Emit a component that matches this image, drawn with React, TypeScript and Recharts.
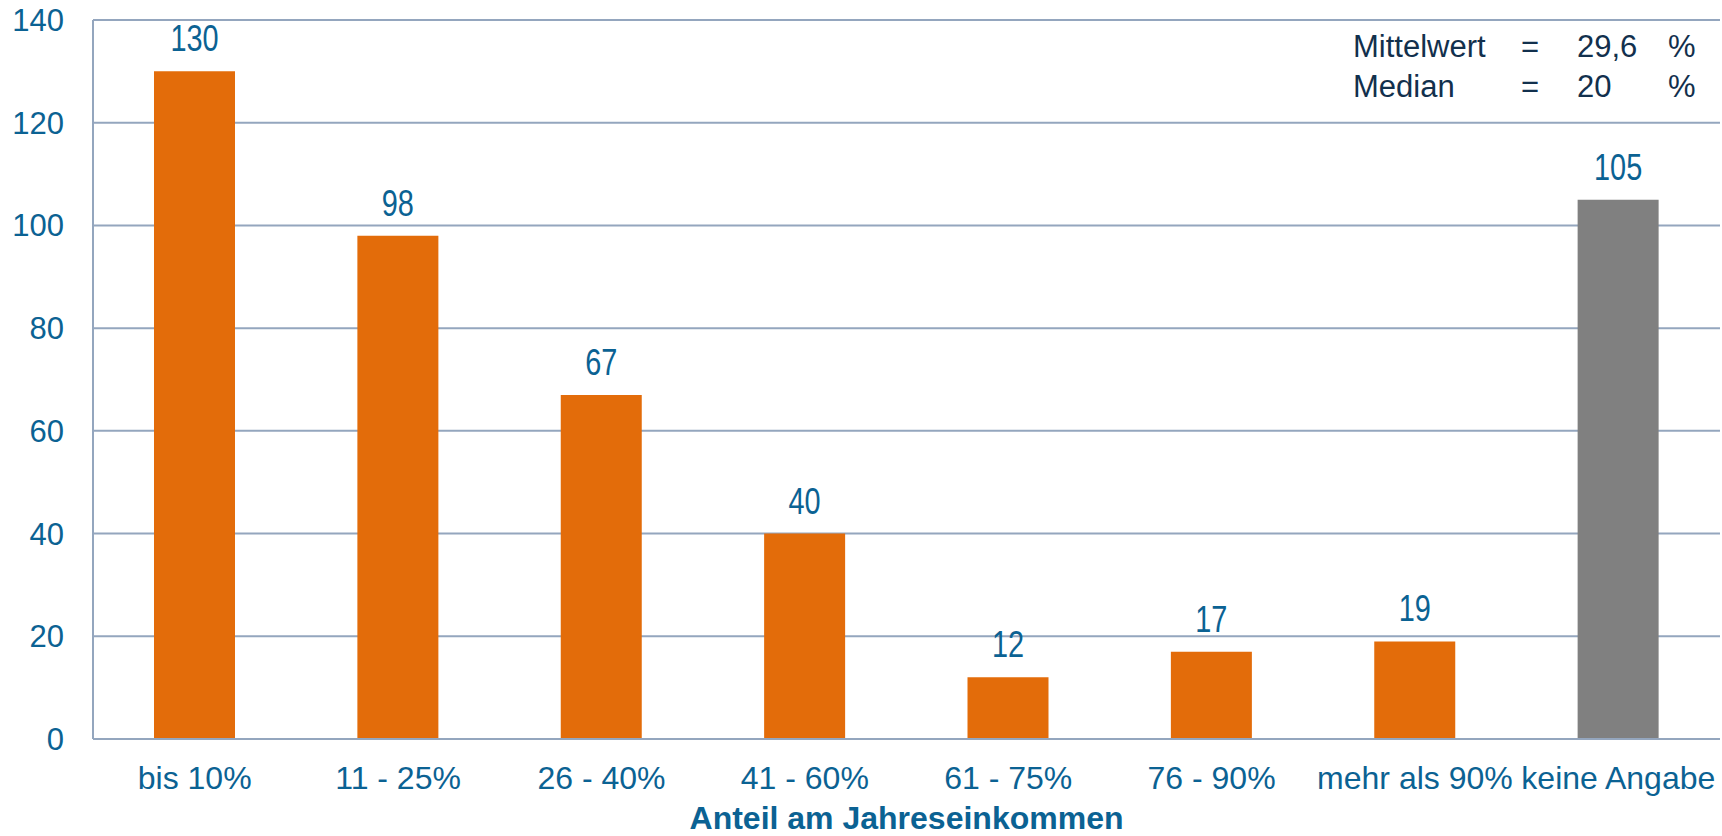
import React from 'react';
import { BarChart, Bar, XAxis, YAxis, CartesianGrid, Cell, LabelList } from 'recharts';

const categories = ['bis 10%', '11 - 25%', '26 - 40%', '41 - 60%', '61 - 75%', '76 - 90%', 'mehr als 90%', 'keine Angabe'];
const counts = [130, 98, 67, 40, 12, 17, 19, 105];
const barColors = ['#E36C0A', '#E36C0A', '#E36C0A', '#E36C0A', '#E36C0A', '#E36C0A', '#E36C0A', '#808080'];
const yTicks = [0, 20, 40, 60, 80, 100, 120, 140];
const statLabels = ['Mittelwert', 'Median'];
const statValues = ['29,6', '20'];
const xTitle = 'Anteil am Jahreseinkommen';

const data = categories.map((c, i) => ({ name: c, value: counts[i] }));

const FONT = '"Liberation Sans", Arial, Helvetica, sans-serif';
const BLUE = '#0B6293';
const GRID = '#94A6BE';

const ValueLabel = (props: any) => {
  const { x, y, width, value } = props;
  const cx = Number(x) + Number(width) / 2;
  const by = Number(y) - 20;
  return (
    <text
      x={0}
      y={0}
      transform={`translate(${cx},${by}) scale(0.78,1)`}
      textAnchor="middle"
      fontSize={37}
      fontFamily={FONT}
      fill={BLUE}
    >
      {value}
    </text>
  );
};

export default function App() {
  return (
    <div style={{ position: 'absolute', left: 0, top: 0, width: 1722, height: 836, background: '#fff' }}>
      <BarChart
        width={1722}
        height={836}
        data={data}
        margin={{ top: 20, right: 2, bottom: 0, left: 0 }}
        barSize={81}
      >
        <CartesianGrid vertical={false} stroke={GRID} strokeWidth={2} />
        <XAxis
          dataKey="name"
          height={97}
          tickLine={false}
          tickSize={0}
          tickMargin={27}
          axisLine={{ stroke: GRID, strokeWidth: 2 }}
          tick={{ fill: BLUE, fontSize: 32, fontFamily: FONT }}
          interval={0}
          label={{
            value: xTitle,
            position: 'insideBottom',
            offset: 7,
            fill: BLUE,
            fontSize: 32,
            fontWeight: 'bold',
            fontFamily: FONT,
          }}
        />
        <YAxis
          width={93}
          domain={[0, 140]}
          ticks={yTicks}
          tickLine={false}
          tickSize={0}
          tickMargin={29}
          axisLine={{ stroke: GRID, strokeWidth: 2 }}
          tick={{ fill: BLUE, fontSize: 31, fontFamily: FONT }}
          interval={0}
        />
        <Bar dataKey="value" isAnimationActive={false}>
          {data.map((d, i) => (
            <Cell key={d.name} fill={barColors[i]} />
          ))}
          <LabelList dataKey="value" content={ValueLabel} />
        </Bar>
      </BarChart>
      <svg
        width={1722}
        height={836}
        style={{ position: 'absolute', left: 0, top: 0, pointerEvents: 'none' }}
      >
        {statLabels.map((lab, i) => (
          <g key={lab} fontFamily={FONT} fontSize={31} fill="#12304D">
            <text x={1353} y={57 + i * 40}>{lab}</text>
            <text x={1530} y={57 + i * 40} textAnchor="middle">=</text>
            <text x={1577} y={57 + i * 40}>{statValues[i]}</text>
            <text x={1668} y={57 + i * 40}>%</text>
          </g>
        ))}
      </svg>
    </div>
  );
}
